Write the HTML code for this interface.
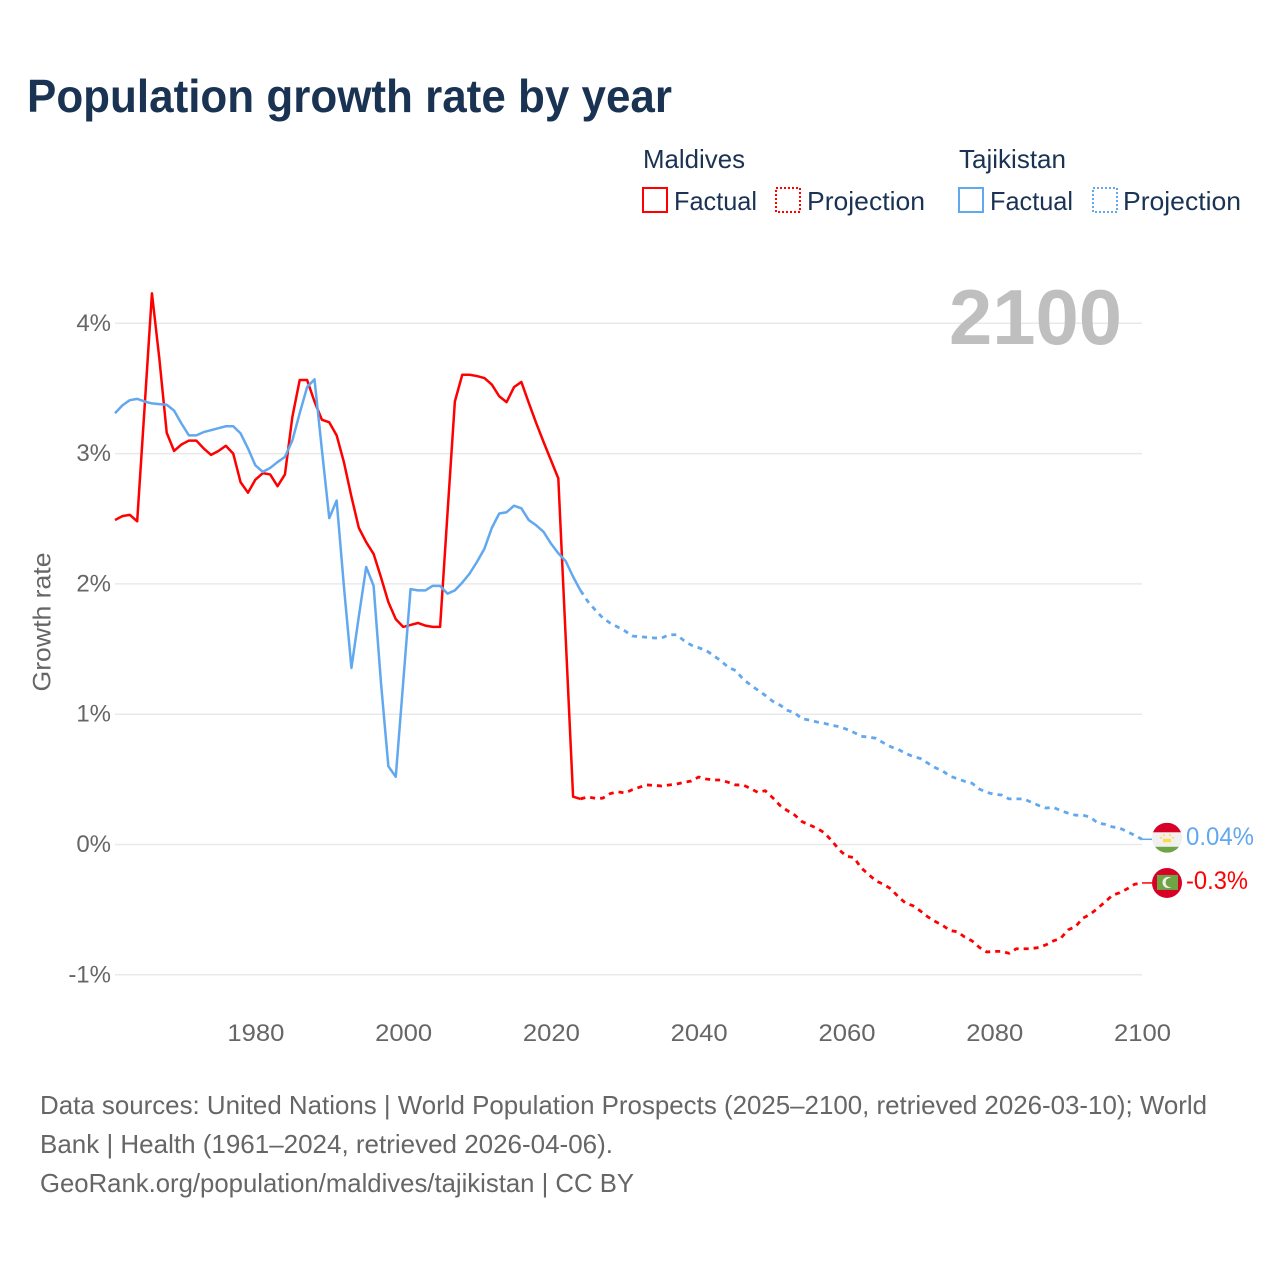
<!DOCTYPE html>
<html lang="en">
<head>
<meta charset="utf-8">
<title>Population growth rate by year</title>
<style>
html,body{margin:0;padding:0;background:#fff;}
svg{display:block;}
text{font-family:"Liberation Sans",sans-serif;}
.title{font-size:46px;font-weight:700;fill:#1a3353;}
.legend{font-size:26px;fill:#1a3353;}
.tick{font-size:24px;fill:#666;}
.foot{font-size:26px;fill:#666;}
</style>
</head>
<body>
<svg id="chart" width="1280" height="1280" viewBox="0 0 1280 1280" xmlns="http://www.w3.org/2000/svg">
  <rect width="1280" height="1280" fill="#fff"/>
  <text class="title" x="27" y="112" textLength="645" lengthAdjust="spacingAndGlyphs">Population growth rate by year</text>

  <g>
    <text class="legend" x="643" y="168" textLength="102" lengthAdjust="spacingAndGlyphs">Maldives</text>
    <text class="legend" x="959" y="168" textLength="107" lengthAdjust="spacingAndGlyphs">Tajikistan</text>
    <g>
      <rect x="643" y="188" width="24" height="24" fill="none" stroke="#ff0000" stroke-width="2"/>
      <text class="legend" x="674" y="210" textLength="83" lengthAdjust="spacingAndGlyphs">Factual</text>
    </g>
    <g>
      <rect x="776" y="188" width="24" height="24" fill="none" stroke="#ff0000" stroke-width="2" stroke-dasharray="2 2"/>
      <text class="legend" x="807" y="210" textLength="118" lengthAdjust="spacingAndGlyphs">Projection</text>
    </g>
    <g>
      <rect x="959" y="188" width="24" height="24" fill="none" stroke="#62a8ee" stroke-width="2"/>
      <text class="legend" x="990" y="210" textLength="83" lengthAdjust="spacingAndGlyphs">Factual</text>
    </g>
    <g>
      <rect x="1093" y="188" width="24" height="24" fill="none" stroke="#62a8ee" stroke-width="2" stroke-dasharray="2 2"/>
      <text class="legend" x="1123" y="210" textLength="118" lengthAdjust="spacingAndGlyphs">Projection</text>
    </g>
  </g>

  <g id="grid"></g>
  <g id="yticks"></g>
  <g id="xticks"></g>

  <text x="949" y="344" font-size="78" font-weight="700" fill="#bfbfbf" textLength="173" lengthAdjust="spacingAndGlyphs">2100</text>
  <text class="tick" transform="translate(50.5 622) rotate(-90)" text-anchor="middle" style="font-size:25px" textLength="139" lengthAdjust="spacingAndGlyphs">Growth rate</text>

  <g id="series"></g>

  <g id="flag-tajikistan">
    <clipPath id="clip-tj"><circle cx="0" cy="0" r="15"/></clipPath>
    <g clip-path="url(#clip-tj)">
      <rect x="-15" y="-15" width="30" height="10" fill="#d80027"/>
      <rect x="-15" y="-5.5" width="30" height="15" fill="#f0f0f0"/>
      <rect x="-15" y="9" width="30" height="6" fill="#6da544"/>
      <rect x="-4" y="1" width="8" height="3.5" fill="#ffda44"/>
      <circle cx="-6" cy="0" r="1" fill="#ffda44"/><circle cx="-3" cy="-2.5" r="1" fill="#ffda44"/>
      <circle cx="3" cy="-2.5" r="1" fill="#ffda44"/><circle cx="6" cy="0" r="1" fill="#ffda44"/>
    </g>
  </g>
  <g id="flag-maldives">
    <circle cx="0" cy="0" r="15" fill="#d80027"/>
    <rect x="-10" y="-8" width="21" height="15" fill="#6da544"/>
    <circle cx="1" cy="-0.5" r="5.5" fill="#f0f0f0"/>
    <circle cx="3.2" cy="-0.5" r="4.6" fill="#6da544"/>
  </g>
  <text id="value-tajikistan" x="1186" y="845" font-size="25" fill="#62a8ee" textLength="68" lengthAdjust="spacingAndGlyphs"></text>
  <text id="value-maldives" x="1186" y="889" font-size="25" fill="#ff0000" textLength="62" lengthAdjust="spacingAndGlyphs"></text>

  <g>
    <text class="foot" x="40" y="1114" textLength="1167" lengthAdjust="spacingAndGlyphs">Data sources: United Nations | World Population Prospects (2025–2100, retrieved 2026-03-10); World</text>
    <text class="foot" x="40" y="1153" textLength="573" lengthAdjust="spacingAndGlyphs">Bank | Health (1961–2024, retrieved 2026-04-06).</text>
    <text class="foot" x="40" y="1192" textLength="594" lengthAdjust="spacingAndGlyphs">GeoRank.org/population/maldives/tajikistan | CC BY</text>
  </g>
</svg>
<script>
const yTickValues = [-1, 0, 1, 2, 3, 4];
const xTickYears = [1980, 2000, 2020, 2040, 2060, 2080, 2100];
const factualStartYear = 1961;
const projectionStartYear = 2024;

const maldivesFactual = [2.49,2.52,2.53,2.48,3.35,4.23,3.73,3.16,3.02,3.07,3.10,3.10,3.04,2.99,3.02,3.06,3.00,2.78,2.70,2.80,2.85,2.84,2.75,2.84,3.28,3.565,3.565,3.40,3.26,3.24,3.14,2.93,2.67,2.43,2.32,2.23,2.05,1.86,1.73,1.67,1.685,1.70,1.68,1.67,1.67,2.54,3.40,3.605,3.605,3.595,3.58,3.53,3.44,3.395,3.51,3.55,3.39,3.235,3.09,2.95,2.81,1.585,0.367,0.35];
const maldivesProjection = [0.35,0.365,0.355,0.355,0.39,0.405,0.395,0.42,0.44,0.457,0.454,0.449,0.457,0.464,0.477,0.487,0.518,0.503,0.495,0.495,0.477,0.457,0.457,0.43,0.40,0.413,0.36,0.30,0.26,0.226,0.175,0.15,0.125,0.09,0.03,-0.04,-0.09,-0.10,-0.18,-0.23,-0.28,-0.305,-0.34,-0.40,-0.45,-0.47,-0.51,-0.555,-0.59,-0.62,-0.66,-0.67,-0.71,-0.74,-0.79,-0.825,-0.82,-0.82,-0.835,-0.80,-0.80,-0.80,-0.79,-0.77,-0.74,-0.72,-0.655,-0.63,-0.565,-0.535,-0.49,-0.44,-0.39,-0.37,-0.34,-0.305,-0.295];
const tajikistanFactual = [3.31,3.37,3.41,3.42,3.40,3.385,3.38,3.375,3.33,3.23,3.14,3.14,3.165,3.18,3.195,3.21,3.21,3.155,3.04,2.91,2.86,2.89,2.935,2.975,3.10,3.31,3.51,3.57,3.03,2.505,2.64,1.97,1.355,1.75,2.13,1.985,1.24,0.60,0.52,1.24,1.96,1.95,1.95,1.985,1.985,1.925,1.95,2.01,2.08,2.17,2.27,2.43,2.54,2.55,2.60,2.58,2.49,2.45,2.40,2.31,2.235,2.175,2.055,1.95];
const tajikistanProjection = [1.95,1.865,1.80,1.74,1.70,1.67,1.64,1.60,1.595,1.59,1.585,1.585,1.61,1.61,1.565,1.53,1.51,1.49,1.45,1.41,1.36,1.335,1.27,1.225,1.185,1.145,1.10,1.07,1.03,1.01,0.965,0.955,0.94,0.93,0.915,0.905,0.885,0.86,0.83,0.825,0.815,0.78,0.75,0.73,0.70,0.675,0.66,0.625,0.59,0.565,0.525,0.505,0.485,0.47,0.425,0.40,0.385,0.38,0.35,0.35,0.35,0.325,0.30,0.28,0.285,0.26,0.24,0.225,0.225,0.21,0.165,0.155,0.135,0.125,0.10,0.07,0.04];
const maldivesEndLabel = "-0.3%";
const tajikistanEndLabel = "0.04%";

const NS = "http://www.w3.org/2000/svg";
const plotLeft = 115, plotRight = 1142;
const xScale = function (year) { return plotLeft + (year - 1961) * (plotRight - plotLeft) / 139; };
const yScale = function (v) { return 844.5 - v * 130.3; };

const grid = document.getElementById("grid");
const yticks = document.getElementById("yticks");
const xticks = document.getElementById("xticks");
const series = document.getElementById("series");

yTickValues.forEach(function (v) {
  const line = document.createElementNS(NS, "line");
  
  
  line.setAttribute("x1", plotLeft);
  line.setAttribute("x2", plotRight);
  line.setAttribute("y1", yScale(v));
  line.setAttribute("y2", yScale(v));
  line.setAttribute("stroke", "#e9e9e9");
  line.setAttribute("stroke-width", "1.5");
  grid.appendChild(line);

  const t = document.createElementNS(NS, "text");
  
  
  t.setAttribute("class", "tick");
  t.setAttribute("x", 111);
  t.setAttribute("y", yScale(v) + 7.5);
  t.setAttribute("text-anchor", "end");
  t.textContent = v + "%";
  yticks.appendChild(t);
});

xTickYears.forEach(function (year) {
  const t = document.createElementNS(NS, "text");
  
  
  t.setAttribute("class", "tick");
  t.setAttribute("x", xScale(year) + 0.5);
  t.setAttribute("y", 1041);
  t.setAttribute("text-anchor", "middle");
  t.setAttribute("textLength", "57");
  t.setAttribute("lengthAdjust", "spacingAndGlyphs");
  t.textContent = year;
  xticks.appendChild(t);
});

function linePoints(values, startYear) {
  return values.map(function (v, i) {
    return xScale(startYear + i).toFixed(2) + "," + yScale(v).toFixed(2);
  }).join(" ");
}

function drawLine(values, startYear, color, dashed, name) {
  const p = document.createElementNS(NS, "polyline");
  
  
  p.setAttribute("points", linePoints(values, startYear));
  p.setAttribute("fill", "none");
  p.setAttribute("stroke", color);
  p.setAttribute("stroke-width", dashed ? "2.8" : "2.5");
  p.setAttribute("stroke-linejoin", "round");
  if (dashed) p.setAttribute("stroke-dasharray", "5 5");
  series.appendChild(p);
}

function drawConnector(endValue, color, name) {
  const c = document.createElementNS(NS, "line");
  
  
  c.setAttribute("x1", xScale(2100));
  c.setAttribute("x2", 1152);
  c.setAttribute("y1", yScale(endValue));
  c.setAttribute("y2", yScale(endValue));
  c.setAttribute("stroke", color);
  c.setAttribute("stroke-width", "1.5");
  series.appendChild(c);
}

drawLine(tajikistanProjection, projectionStartYear, "#62a8ee", true, "tajikistan-projection-line");
drawLine(maldivesProjection, projectionStartYear, "#ff0000", true, "maldives-projection-line");
drawLine(maldivesFactual, factualStartYear, "#ff0000", false, "maldives-factual-line");
drawLine(tajikistanFactual, factualStartYear, "#62a8ee", false, "tajikistan-factual-line");

const tjEnd = tajikistanProjection[tajikistanProjection.length - 1];
const mvEnd = maldivesProjection[maldivesProjection.length - 1];
drawConnector(tjEnd, "#62a8ee", "tajikistan-end-connector");
drawConnector(mvEnd, "#ff0000", "maldives-end-connector");

document.getElementById("flag-tajikistan").setAttribute("transform", "translate(1167 " + (yScale(tjEnd) - 1.5) + ")");
document.getElementById("flag-maldives").setAttribute("transform", "translate(1167 " + yScale(mvEnd) + ")");
document.getElementById("value-tajikistan").textContent = tajikistanEndLabel;
document.getElementById("value-maldives").textContent = maldivesEndLabel;
</script>
</body>
</html>
